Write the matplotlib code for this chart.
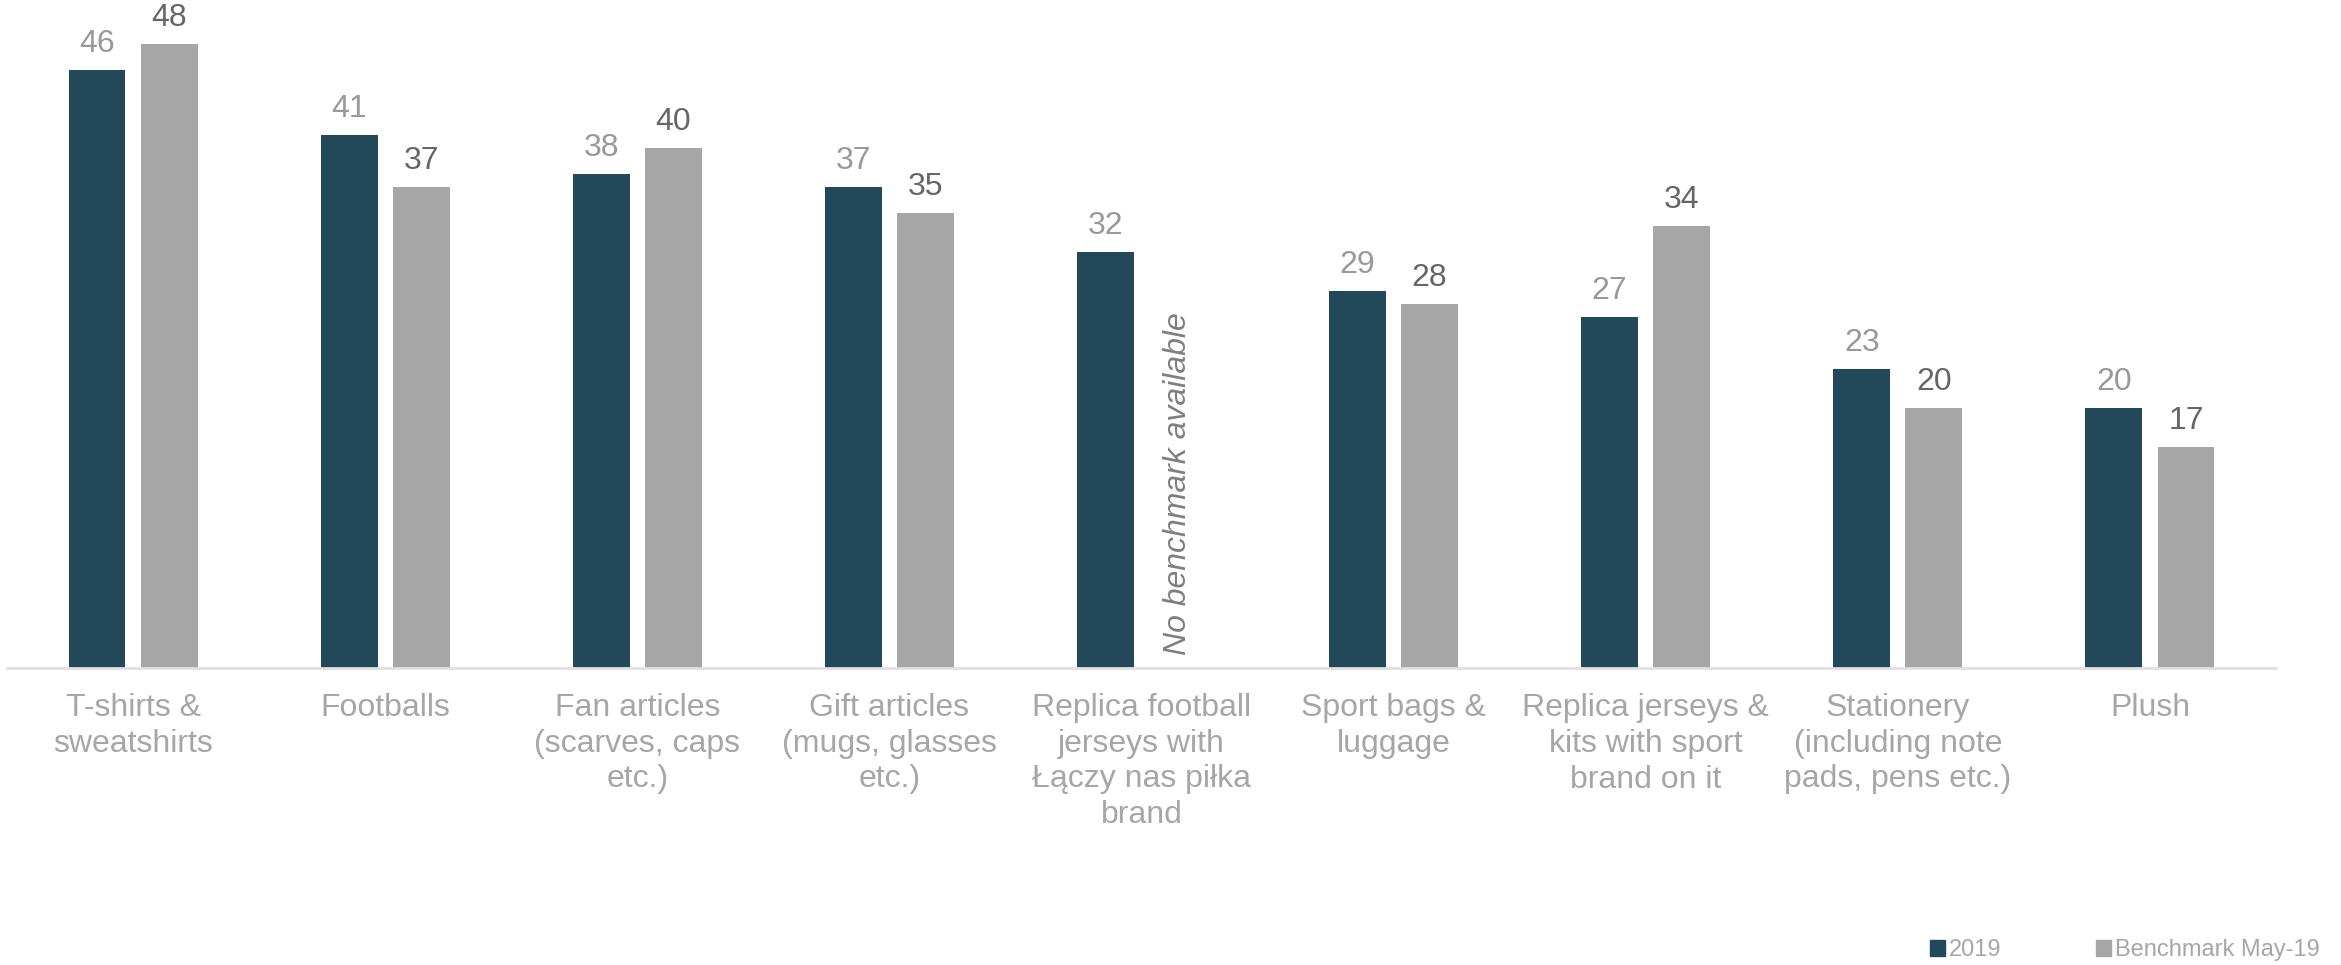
import numpy as np
import matplotlib.pyplot as plt
from matplotlib.patches import Patch

plt.rcParams['font.family'] = ['Liberation Sans', 'DejaVu Sans']

categories = [
    "T-shirts &\nsweatshirts",
    "Footballs",
    "Fan articles\n(scarves, caps\netc.)",
    "Gift articles\n(mugs, glasses\netc.)",
    "Replica football\njerseys with\nŁączy nas piłka\nbrand",
    "Sport bags &\nluggage",
    "Replica jerseys &\nkits with sport\nbrand on it",
    "Stationery\n(including note\npads, pens etc.)",
    "Plush",
]
values_2019 = [46, 41, 38, 37, 32, 29, 27, 23, 20]
values_bench = [48, 37, 40, 35, None, 28, 34, 20, 17]

c2019 = '#224859'
cbench = '#A6A6A6'

fig = plt.figure(figsize=(23.41, 9.65), dpi=100)
ax = fig.add_axes([7 / 2341, 1 - 668 / 965, 2269 / 2341, 668 / 965])

x = np.arange(len(categories))
w = 0.226
off = 0.143

ax.bar(x - off, values_2019, width=w, color=c2019)
for xi, v in zip(x, values_2019):
    ax.text(xi - off, v + 0.85, str(v), ha='center', va='bottom',
            fontsize=23, color='#999999')

for xi, v in zip(x, values_bench):
    if v is None:
        ax.text(xi + off, 1.0, "No benchmark available", rotation=90,
                ha='center', va='bottom', fontsize=23, style='italic',
                color='#7F7F7F')
        continue
    ax.bar(xi + off, v, width=w, color=cbench)
    ax.text(xi + off, v + 0.85, str(v), ha='center', va='bottom',
            fontsize=23, color='#666666')

ax.set_xlim(-0.5, len(categories) - 0.5)
ax.set_ylim(0, 51.4)
ax.set_xticks(x)
ax.set_xticklabels(categories, fontsize=23, color='#A6A6A6', linespacing=1.25)
ax.tick_params(axis='x', length=0, pad=18)
ax.set_yticks([])
for s in ['top', 'right', 'left']:
    ax.spines[s].set_visible(False)
ax.spines['bottom'].set_color('#E0E0E0')
ax.spines['bottom'].set_linewidth(2)

handles = [Patch(color=c2019, label='2019'), Patch(color=cbench, label='Benchmark May-19')]
fig.legend(handles=handles, loc='center left', bbox_to_anchor=(1930 / 2341, 1 - 950 / 965),
           ncol=2, frameon=False, fontsize=17, labelcolor='#A6A6A6',
           handlelength=0.65, handleheight=0.65, handletextpad=0.15, columnspacing=4.0,
           borderaxespad=0, borderpad=0)

fig.savefig('out.png', dpi=100)
